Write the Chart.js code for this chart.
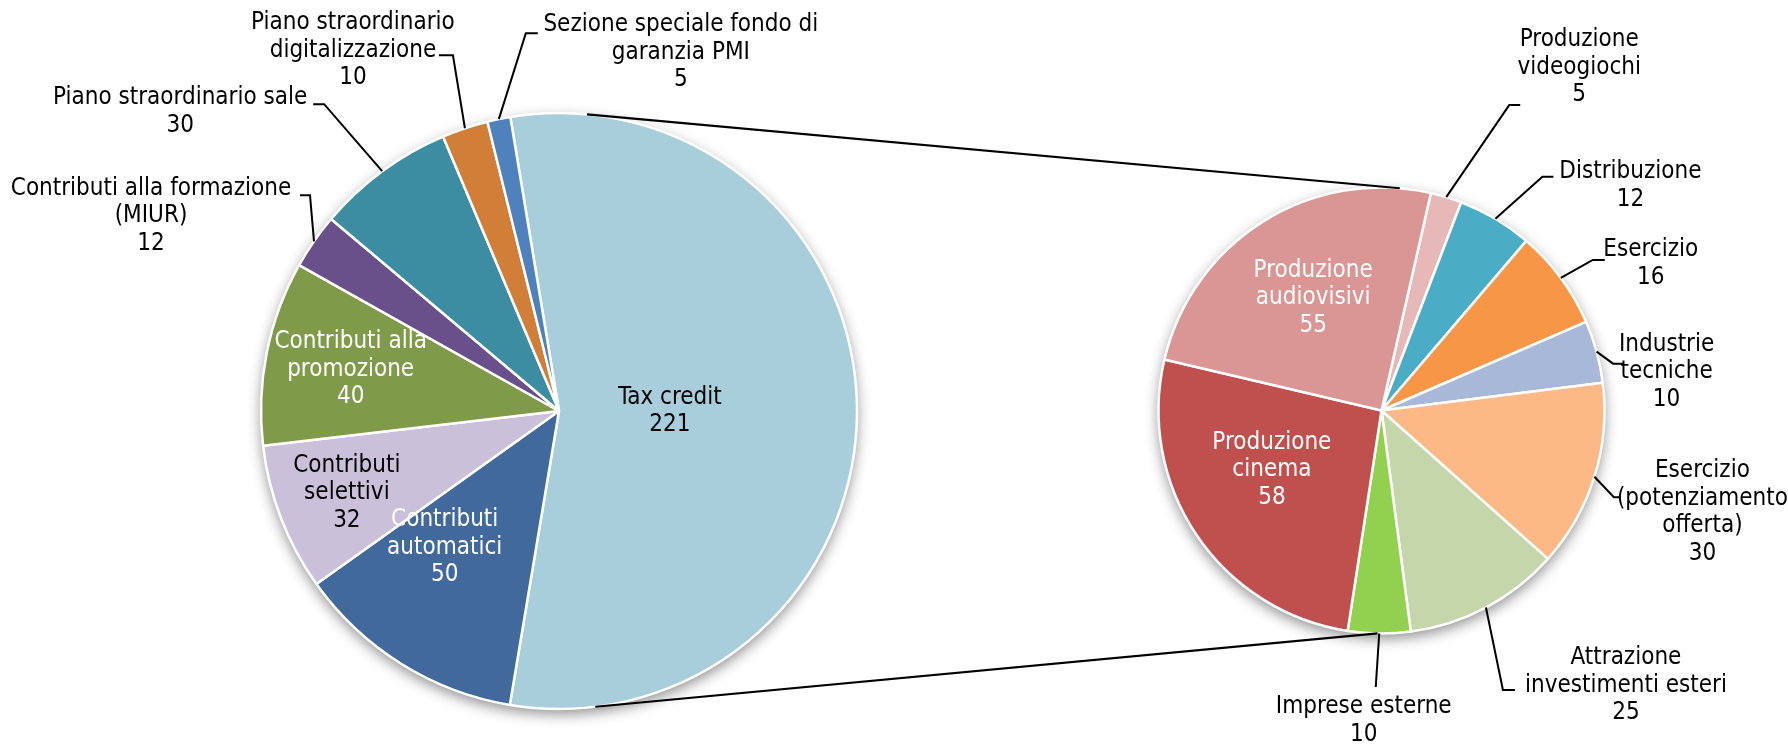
<!DOCTYPE html>
<html>
<head>
<meta charset="utf-8">
<script src="https://cdn.jsdelivr.net/npm/chart.js@4.4.1/dist/chart.umd.min.js"></script>
<style>
html, body { margin: 0; padding: 0; background: #fff; }
#wrap { position: relative; width: 1788px; height: 745px; }
canvas { position: absolute; left: 0; top: 0; }
</style>
</head>
<body>
<div id="wrap">
  <canvas id="pie_main" width="1788" height="745"></canvas>
  <canvas id="pie_detail" width="1788" height="745"></canvas>
</div>
<script>
// Data
main_labels = ["Tax credit", ["Contributi", "automatici"], ["Contributi", "selettivi"], ["Contributi alla", "promozione"],
               ["Contributi alla formazione", "(MIUR)"], "Piano straordinario sale", ["Piano straordinario", "digitalizzazione"],
               ["Sezione speciale fondo di", "garanzia PMI"]]
main_values = [221, 50, 32, 40, 12, 30, 10, 5]

detail_labels = [["Produzione", "videogiochi"], "Distribuzione", "Esercizio", ["Industrie", "tecniche"],
                 ["Esercizio", "(potenziamento", "offerta)"], ["Attrazione", "investimenti esteri"], "Imprese esterne",
                 ["Produzione", "cinema"], ["Produzione", "audiovisivi"]]
detail_values = [5, 12, 16, 10, 30, 25, 10, 58, 55]

// Style
main_colors = ["#A8CEDC", "#41699B", "#CBC0DA", "#7F9A48", "#69508A", "#3C8CA2", "#D07E38", "#4F81BD"]
detail_colors = ["#E6B9B8", "#4BACC6", "#F79646", "#A8B8D8", "#FCB885", "#C5D6AB", "#92D050", "#C0504D", "#D99694"]

var FONT = "24px 'DejaVu Sans Condensed', 'DejaVu Sans', sans-serif";
var LINE_H = 27.5;
var W = 1788, H = 745;

// label placement: inside (radius fraction, angle shift) or outside (text / elbow offsets from slice edge)
main_label_pos = [
  {inside: true, r: 0.372, da: 0, color: "#000"},
  {inside: true, r: 0.598, da: 7.9, color: "#fff"},
  {inside: true, r: 0.763, da: 0, color: "#000"},
  {inside: true, r: 0.713, da: 0, color: "#fff"},
  {text: [-163, -53], elbow: [-4, -46], tick: -10},
  {text: [-202, -73], elbow: [-58, -67], tick: -11},
  {text: [-112, -105], elbow: [-12, -73], tick: -14},
  {text: [182, -94], elbow: [27, -86], tick: 12}
]
detail_label_pos = [
  {text: [133, -157], elbow: [63, -92], tick: 11},
  {text: [135, -47], elbow: [47, -42], tick: 11},
  {text: [90, -28], elbow: [32, -18], tick: 12},
  {text: [70, -7], elbow: [16.5, 12], tick: 10},
  {text: [108, -5.5], elbow: [19.5, 20.5], tick: 6},
  {text: [140, 50.5], elbow: [17, 82.5], tick: 12},
  {text: [-15.5, 73.5], elbow: [-3.5, 53.5], tick: 0},
  {inside: true, r: 0.559, da: 5.6, color: "#fff"},
  {inside: true, r: 0.59, da: 0.7, color: "#fff"}
]

function linesOf(label) { return Array.isArray(label) ? label : [label]; }
function rad(d) { return d * Math.PI / 180; }

var sliceLabels = {
  id: 'sliceLabels',
  afterDatasetsDraw: function(chart, args, opts) {
    var ctx = chart.ctx;
    var meta = chart.getDatasetMeta(0);
    var values = chart.data.datasets[0].data;
    ctx.save();
    ctx.font = FONT;
    ctx.textAlign = 'center';
    ctx.textBaseline = 'middle';
    meta.data.forEach(function(arc, i) {
      var p = opts.pos[i];
      var mid = (arc.startAngle + arc.endAngle) / 2;
      var R = arc.outerRadius;
      var text = linesOf(chart.data.labels[i]).concat([String(values[i])]);
      var tx, ty;
      if (p.inside) {
        var a = mid + rad(p.da);
        tx = arc.x + Math.cos(a) * R * p.r;
        ty = arc.y + Math.sin(a) * R * p.r - (text.length - 1) * LINE_H / 2;
        ctx.fillStyle = p.color;
      } else {
        var ex = arc.x + Math.cos(mid) * R, ey = arc.y + Math.sin(mid) * R;
        var bx = ex + p.elbow[0], by = ey + p.elbow[1];
        ctx.strokeStyle = '#000';
        ctx.lineWidth = 2;
        ctx.beginPath();
        ctx.moveTo(ex, ey);
        ctx.lineTo(bx, by);
        ctx.lineTo(bx + p.tick, by);
        ctx.stroke();
        tx = ex + p.text[0];
        ty = ey + p.text[1];
        ctx.fillStyle = '#000';
      }
      text.forEach(function(t, k) { ctx.fillText(t, tx, ty + k * LINE_H); });
    });
    ctx.restore();
  }
};

var pieShadow = {
  id: 'pieShadow',
  beforeDatasetsDraw: function(chart) {
    var arc = chart.getDatasetMeta(0).data[0];
    var ctx = chart.ctx;
    ctx.save();
    ctx.shadowColor = 'rgba(0,0,0,0.45)';
    ctx.shadowBlur = 14;
    ctx.shadowOffsetY = 5;
    ctx.fillStyle = '#fff';
    ctx.beginPath();
    ctx.arc(arc.x, arc.y, arc.outerRadius, 0, 2 * Math.PI);
    ctx.fill();
    ctx.restore();
  }
};

function pieConfig(labels, values, colors, rotation, cx, cy, radius, pos, extra) {
  var half = radius + 10;
  return {
    type: 'pie',
    data: {
      labels: labels,
      datasets: [{
        data: values,
        backgroundColor: colors,
        borderColor: '#fff',
        borderWidth: 2.5,
        hoverOffset: 0
      }]
    },
    options: {
      responsive: false,
      animation: false,
      events: [],
      rotation: rotation,
      radius: radius,
      layout: { padding: { left: cx - half, right: W - cx - half, top: cy - half, bottom: H - cy - half } },
      plugins: {
        legend: { display: false },
        tooltip: { enabled: false },
        sliceLabels: { pos: pos }
      }
    },
    plugins: [pieShadow, sliceLabels].concat(extra || [])
  };
}

var ch_main = new Chart(document.getElementById("pie_main"),
  pieConfig(main_labels, main_values, main_colors, -9.4, 559, 411, 298, main_label_pos));

// lines joining the split slice to the second pie (clock angles on each circle)
var connectors = {
  id: 'connectors',
  afterDatasetsDraw: function(chart) {
    var a = ch_main.getDatasetMeta(0).data[0];
    var b = chart.getDatasetMeta(0).data[0];
    function pt(arc, deg) {
      return [arc.x + arc.outerRadius * Math.sin(rad(deg)), arc.y - arc.outerRadius * Math.cos(rad(deg))];
    }
    var pairs = [[pt(a, 5.4), pt(b, 4.7)], [pt(a, 173), pt(b, 181)]];
    var ctx = chart.ctx;
    ctx.save();
    ctx.strokeStyle = '#000';
    ctx.lineWidth = 2.2;
    pairs.forEach(function(p) {
      ctx.beginPath();
      ctx.moveTo(p[0][0], p[0][1]);
      ctx.lineTo(p[1][0], p[1][1]);
      ctx.stroke();
    });
    ctx.restore();
  }
};

var ch_detail = new Chart(document.getElementById("pie_detail"),
  pieConfig(detail_labels, detail_values, detail_colors, 12.8, 1381.5, 410.5, 223, detail_label_pos, [connectors]));
</script>
</body>
</html>
